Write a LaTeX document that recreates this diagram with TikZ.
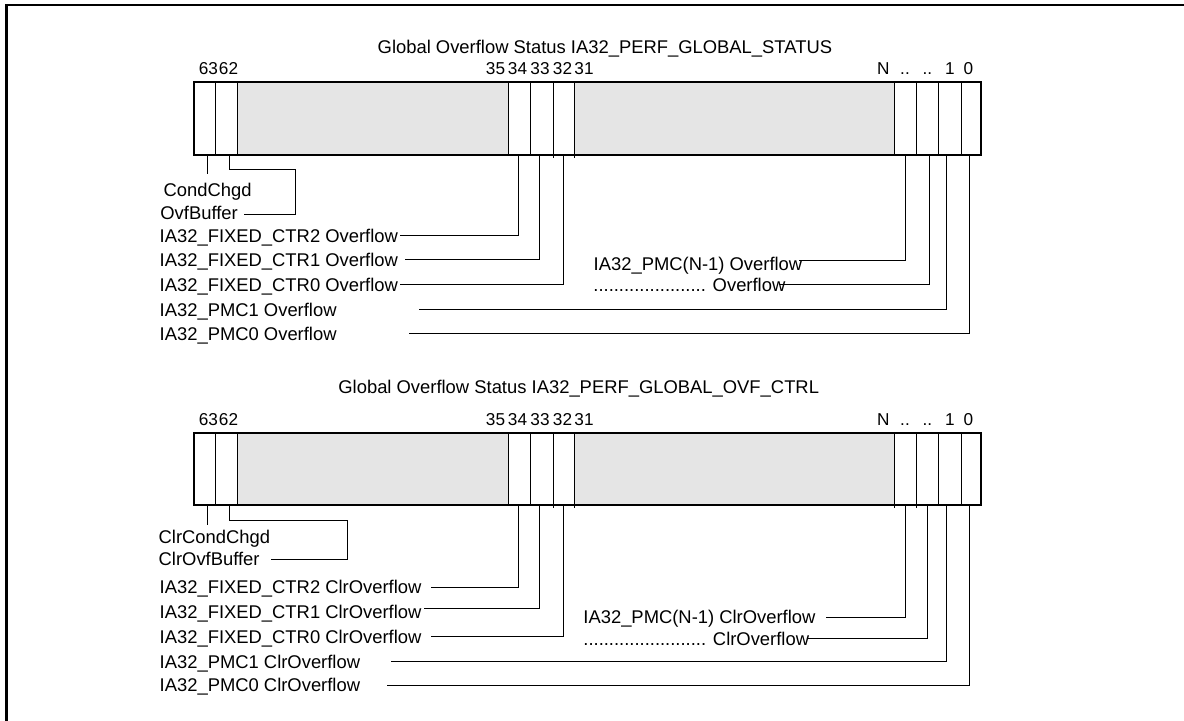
\documentclass[tikz,border=0pt]{standalone}
\usepackage{fontspec}
\setmainfont{Liberation Sans}
\usepackage{tikz}
\definecolor{resgray}{RGB}{229,229,229}

\begin{document}
\begin{tikzpicture}[x=0.5pt, y=-0.5pt,
    lbl/.style={font=\fontsize{9.2}{11}\selectfont, inner sep=0pt, anchor=base west},
    bitlbl/.style={font=\fontsize{8.6}{10}\selectfont, inner sep=0pt, anchor=base},
    conn/.style={line width=0.5pt},
    cellline/.style={line width=0.5pt},
    regbox/.style={line width=1pt}]
    \useasboundingbox (0,0) rectangle (1184,721);
    % outer frame
    \draw[line width=1.1pt] (6.5,721) -- (6.5,5) -- (1184,5);

    % the two registers
    \foreach \r/\yt/\yb/\ext in {a/81.7/155.3/{553.5,574.5}, b/432.7/505.5/{553.5,574.5,894,916.7}} {
        \fill[resgray] (237,\yt) rectangle (508,\yb);
        \fill[resgray] (574.5,\yt) rectangle (894,\yb);
        \foreach \xd in {215.5,237,508,530.5,894,916.7,938.3,961} {
            \draw[cellline] (\xd,\yt) -- (\xd,\yb);
        }
        \foreach \xd in \ext {
            \draw[cellline] (\xd,\yt) -- (\xd,\yb+3);
        }
        \draw[regbox] (193.5,\yt) rectangle (980.5,\yb);
        \foreach \k/\xn/\t in {1/208.5/63, 2/228.5/62, 3/495.5/35, 4/517.5/34, 5/540/33, 6/562.5/32,
                               7/584/31, 8/883.3/N, 9/905/{..}, 10/927.3/{..}, 11/950/1, 12/968.3/0} {
            \node[bitlbl] (n\r\k) at (\xn,\yt-7.4) {\t};
        }
    }

    % IA32_PERF_GLOBAL_STATUS
    \node[lbl] (ttla) at (377.3,53.3) {Global Overflow Status IA32\_PERF\_GLOBAL\_STATUS};
    \node[lbl] (conda) at (163.3,196.6) {CondChgd};
    \node[lbl] (ovfa) at (160,219.9) {OvfBuffer};
    \node[lbl] (fix2a) at (159.3,242.6) {IA32\_FIXED\_CTR2 Overflow};
    \node[lbl] (fix1a) at (159.3,266.6) {IA32\_FIXED\_CTR1 Overflow};
    \node[lbl] (fix0a) at (159.3,291.6) {IA32\_FIXED\_CTR0 Overflow};
    \node[lbl] (pmc1a) at (159.3,317) {IA32\_PMC1 Overflow};
    \node[lbl] (pmc0a) at (159.3,340.6) {IA32\_PMC0 Overflow};
    \node[lbl] (pmcna) at (593.3,270.6) {IA32\_PMC(N-1) Overflow};
    \node[lbl] (dotsa) at (593,291.6) {...................... Overflow};

    \coordinate (c63a) at (207.3,155.3);
    \coordinate (c62a) at (229,155.3);
    \coordinate (k62a) at (295.7,170);
    \coordinate (c34a) at (518.5,155.3);
    \coordinate (c33a) at (539.6,155.3);
    \coordinate (c32a) at (563.3,155.3);
    \coordinate (cna) at (905.7,155.3);
    \coordinate (cda) at (929.3,155.3);
    \coordinate (c1a) at (946,155.3);
    \coordinate (c0a) at (969.3,155.3);

    \draw[conn] (c63a) -- ++(0,18.7);
    \draw[conn] (c62a) |- (k62a) |- ([shift={(5.6,-5.6)}]ovfa.base east);
    \draw[conn] (c34a) |- ([shift={(1.7,-6.6)}]fix2a.base east);
    \draw[conn] (c33a) |- ([shift={(6.7,-6.6)}]fix1a.base east);
    \draw[conn] (c32a) |- ([shift={(1.7,-6.6)}]fix0a.base east);
    \draw[conn] (cna) |- ([shift={(-4,-9.9)}]pmcna.base east);
    \draw[conn] (cda) |- ([shift={(-7,-7.3)}]dotsa.base east);
    \draw[conn] (c1a) |- ([shift={(82,-7)}]pmc1a.base east);
    \draw[conn] (c0a) |- ([shift={(72,-7.3)}]pmc0a.base east);

    % IA32_PERF_GLOBAL_OVF_CTRL
    \node[lbl] (ttlb) at (338,393.3) {Global Overflow Status IA32\_PERF\_GLOBAL\_OVF\_CTRL};
    \node[lbl] (condb) at (158.3,543.3) {ClrCondChgd};
    \node[lbl] (ovfb) at (158.3,565.9) {ClrOvfBuffer};
    \node[lbl] (fix2b) at (159.3,593.3) {IA32\_FIXED\_CTR2 ClrOverflow};
    \node[lbl] (fix1b) at (159.3,618) {IA32\_FIXED\_CTR1 ClrOverflow};
    \node[lbl] (fix0b) at (159.3,643.3) {IA32\_FIXED\_CTR0 ClrOverflow};
    \node[lbl] (pmc1b) at (159.3,668.3) {IA32\_PMC1 ClrOverflow};
    \node[lbl] (pmc0b) at (159.3,691.6) {IA32\_PMC0 ClrOverflow};
    \node[lbl] (pmcnb) at (583,623.3) {IA32\_PMC(N-1) ClrOverflow};
    \node[lbl] (dotsb) at (583,645.9) {........................ ClrOverflow};

    \coordinate (c63b) at (207.3,505.5);
    \coordinate (c62b) at (229,505.5);
    \coordinate (k62b) at (347.3,520.7);
    \coordinate (c34b) at (518.5,505.5);
    \coordinate (c33b) at (539.6,505.5);
    \coordinate (c32b) at (563.3,505.5);
    \coordinate (cnb) at (905.5,505.5);
    \coordinate (cdb) at (927.3,505.5);
    \coordinate (c1b) at (946.2,505.5);
    \coordinate (c0b) at (969.3,505.5);

    \draw[conn] (c63b) -- ++(0,19.8);
    \draw[conn] (c62b) |- (k62b) |- ([shift={(11,-5.9)}]ovfb.base east);
    \draw[conn] (c34b) |- ([shift={(9,-5.6)}]fix2b.base east);
    \draw[conn] (c33b) |- ([shift={(2,-9.7)}]fix1b.base east);
    \draw[conn] (c32b) |- ([shift={(9.5,-6.6)}]fix0b.base east);
    \draw[conn] (cnb) |- ([shift={(9.8,-6)}]pmcnb.base east);
    \draw[conn] (cdb) |- ([shift={(-1,-7.6)}]dotsb.base east);
    \draw[conn] (c1b) |- ([shift={(30.6,-6.6)}]pmc1b.base east);
    \draw[conn] (c0b) |- ([shift={(26.8,-6.6)}]pmc0b.base east);
\end{tikzpicture}
\end{document}
